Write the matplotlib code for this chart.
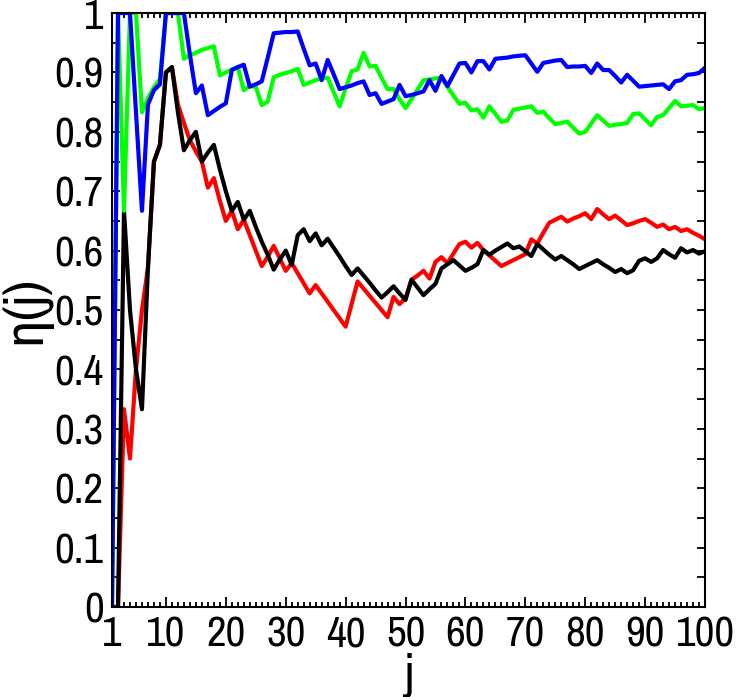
import numpy as np
import matplotlib
matplotlib.use("Agg")
import matplotlib.pyplot as plt
from matplotlib.ticker import MultipleLocator

plt.rcParams['font.family'] = ['Archivo Narrow', 'Roboto Condensed', 'DejaVu Sans']

j = np.arange(1, 101)

red = [0, 0, 0.333, 0.25, 0.4, 0.5, 0.571, 0.75, 0.778, 0.9,
       0.909, 0.846, 0.815, 0.786, 0.767, 0.75, 0.706, 0.722, 0.684, 0.65,
       0.667, 0.636, 0.652, 0.626, 0.60, 0.574, 0.59, 0.608, 0.587, 0.566,
       0.579, 0.562, 0.545, 0.528, 0.542, 0.528, 0.514, 0.5, 0.486, 0.472,
       0.51, 0.548, 0.536, 0.524, 0.512, 0.5, 0.488, 0.522, 0.510, 0.52,
       0.551, 0.558, 0.566, 0.553, 0.581, 0.589, 0.579, 0.595, 0.611, 0.615,
       0.605, 0.613, 0.601, 0.592, 0.583, 0.574, 0.579, 0.584, 0.589, 0.594,
       0.619, 0.612, 0.63, 0.647, 0.652, 0.657, 0.649, 0.654, 0.658, 0.663,
       0.653, 0.670, 0.661, 0.653, 0.659, 0.651, 0.643, 0.646, 0.65, 0.653,
       0.647, 0.640, 0.644, 0.636, 0.640, 0.633, 0.636, 0.63, 0.625, 0.619]

black = [0, 0, 0.667, 0.5, 0.4, 0.333, 0.571, 0.75, 0.778, 0.9,
         0.909, 0.833, 0.769, 0.786, 0.8, 0.75, 0.765, 0.778, 0.737, 0.70,
         0.667, 0.682, 0.652, 0.667, 0.64, 0.615, 0.593, 0.568, 0.585, 0.600,
         0.576, 0.626, 0.636, 0.616, 0.629, 0.609, 0.620, 0.605, 0.59, 0.574,
         0.559, 0.570, 0.558, 0.546, 0.533, 0.521, 0.53, 0.540, 0.528, 0.517,
         0.551, 0.538, 0.525, 0.535, 0.544, 0.570, 0.577, 0.584, 0.575, 0.566,
         0.571, 0.577, 0.601, 0.593, 0.6, 0.606, 0.612, 0.604, 0.607, 0.599,
         0.591, 0.611, 0.602, 0.593, 0.585, 0.591, 0.584, 0.577, 0.569, 0.574,
         0.579, 0.584, 0.577, 0.571, 0.564, 0.569, 0.562, 0.567, 0.583, 0.587,
         0.581, 0.587, 0.601, 0.594, 0.588, 0.604, 0.597, 0.601, 0.595, 0.599]

green = [0, 1, 0.667, 1, 1, 0.833, 0.857, 0.875, 0.889, 1,
         1, 1, 0.923, 0.929, 0.933, 0.938, 0.941, 0.944, 0.895, 0.9,
         0.905, 0.909, 0.870, 0.877, 0.876, 0.845, 0.851, 0.892, 0.896, 0.899,
         0.902, 0.906, 0.879, 0.883, 0.887, 0.890, 0.891, 0.867, 0.843, 0.873,
         0.902, 0.905, 0.933, 0.910, 0.911, 0.891, 0.872, 0.872, 0.855, 0.840,
         0.855, 0.871, 0.887, 0.888, 0.890, 0.891, 0.876, 0.861, 0.847, 0.849,
         0.836, 0.838, 0.824, 0.843, 0.83, 0.817, 0.819, 0.837, 0.839, 0.841,
         0.843, 0.832, 0.834, 0.823, 0.813, 0.815, 0.817, 0.807, 0.797, 0.800,
         0.814, 0.828, 0.819, 0.810, 0.812, 0.813, 0.815, 0.830, 0.831, 0.821,
         0.811, 0.825, 0.828, 0.840, 0.852, 0.843, 0.844, 0.845, 0.838, 0.840]

blue = [0, 1, 1, 1, 0.833, 0.667, 0.846, 0.870, 0.880, 1,
        1, 1, 1, 0.93, 0.865, 0.878, 0.828, 0.835, 0.842, 0.848,
        0.904, 0.909, 0.913, 0.876, 0.88, 0.885, 0.925, 0.966, 0.967, 0.968,
        0.968, 0.969, 0.94, 0.912, 0.915, 0.887, 0.921, 0.897, 0.872, 0.875,
        0.878, 0.882, 0.885, 0.862, 0.865, 0.847, 0.851, 0.855, 0.879, 0.860,
        0.862, 0.865, 0.868, 0.887, 0.869, 0.894, 0.877, 0.896, 0.915, 0.916,
        0.900, 0.919, 0.919, 0.905, 0.923, 0.924, 0.925, 0.927, 0.928, 0.929,
        0.915, 0.901, 0.916, 0.918, 0.920, 0.921, 0.909, 0.910, 0.910, 0.911,
        0.899, 0.915, 0.904, 0.904, 0.894, 0.883, 0.896, 0.886, 0.876, 0.877,
        0.878, 0.879, 0.880, 0.872, 0.885, 0.887, 0.896, 0.897, 0.899, 0.908]

x_ticks = [1, 10, 20, 30, 40, 50, 60, 70, 80, 90, 100]
y_ticks = [0, 0.1, 0.2, 0.3, 0.4, 0.5, 0.6, 0.7, 0.8, 0.9, 1]
y_labels = ['0', '0.1', '0.2', '0.3', '0.4', '0.5', '0.6', '0.7', '0.8', '0.9', '1']

fig = plt.figure(figsize=(7.36, 6.97), dpi=100)
ax = fig.add_axes([0.1522, 0.1291, 0.8057, 0.8522])

lw = 3
ax.plot(j, red, color='#ff0000', lw=lw)
ax.plot(j, black, color='black', lw=lw)
ax.plot(j, green, color='#00ff00', lw=lw)
ax.plot(j, blue, color='#0000ff', lw=lw)

ax.set_xlim(1, 100)
ax.set_ylim(0, 1)
ax.set_xticks(x_ticks)
ax.set_xticklabels([str(t) for t in x_ticks])
ax.set_yticks(y_ticks)
ax.set_yticklabels(y_labels)
ax.xaxis.set_minor_locator(MultipleLocator(1))
ax.yaxis.set_minor_locator(MultipleLocator(0.05))

ax.tick_params(which='both', direction='in', top=True, right=True,
               labelsize=31, width=1.3, pad=6)
ax.tick_params(axis='x', which='major', length=7)
ax.tick_params(axis='x', which='minor', length=3.5)
ax.tick_params(axis='y', which='both', length=6)

for s in ax.spines.values():
    s.set_linewidth(1.5)

ax.set_xlabel('j', fontsize=36, labelpad=0)
ax.set_ylabel('η(j)', fontsize=40, labelpad=2)

fig.savefig('out.png', dpi=100)
